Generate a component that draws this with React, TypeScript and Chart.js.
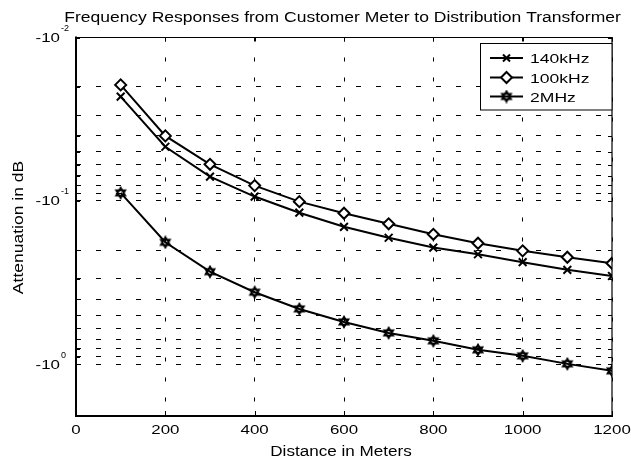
import React, { useEffect, useRef } from 'react';
import { Chart, registerables } from 'chart.js';

Chart.register(...registerables);

const distances = [100, 200, 300, 400, 500, 600, 700, 800, 900, 1000, 1100, 1200];
const atten140k = [0.023, 0.0466, 0.071, 0.094, 0.118, 0.144, 0.168, 0.193, 0.212, 0.237, 0.264, 0.288];
const atten100k = [0.0195, 0.040, 0.0597, 0.0806, 0.101, 0.119, 0.138, 0.160, 0.1815, 0.202, 0.221, 0.2405];
const atten2M = [0.0893, 0.179, 0.271, 0.362, 0.458, 0.55, 0.642, 0.718, 0.815, 0.887, 0.993, 1.096];
const seriesLabels = ['140kHz', '100kHz', '2MHz'];
const xTicks = [0, 200, 400, 600, 800, 1000, 1200];
const yMajorTicks = [0.01, 0.1, 1];
const yTickBase = '-10';
const yTickExps = ['-2', '-1', '0'];
const titleText = 'Frequency Responses from Customer Meter to Distribution Transformer';
const xTitle = 'Distance in Meters';
const yTitle = 'Attenuation in dB';

const FONT = "'Liberation Sans', Arial, Helvetica, sans-serif";

function buildYTicks(): number[] {
  const out: number[] = [];
  for (let d = 0; d < yMajorTicks.length - 1; d++) {
    for (let m = 1; m <= 9; m++) out.push(yMajorTicks[d] * m);
  }
  out.push(yMajorTicks[yMajorTicks.length - 1]);
  return out;
}
const yAllTicks = buildYTicks();

function txt(ctx: CanvasRenderingContext2D, s: string, x: number, y: number, size: number, align: CanvasTextAlign, sx = 1.3, rot = 0) {
  ctx.save();
  ctx.translate(x, y);
  if (rot) ctx.rotate(rot);
  ctx.scale(sx, 1);
  ctx.font = `${size}px ${FONT}`;
  ctx.textAlign = align;
  ctx.textBaseline = 'alphabetic';
  ctx.fillStyle = '#000';
  ctx.fillText(s, 0, 0);
  ctx.restore();
}

function makeHexagram(): HTMLCanvasElement {
  const c = document.createElement('canvas');
  c.width = 14;
  c.height = 14;
  const g = c.getContext('2d')!;
  const R = 5.2;
  g.strokeStyle = '#000';
  g.lineWidth = 1.8;
  g.lineJoin = 'miter';
  for (const start of [-90, 90]) {
    g.beginPath();
    for (let k = 0; k < 3; k++) {
      const a = ((start + k * 120) * Math.PI) / 180;
      const px = 7 + R * Math.cos(a);
      const py = 7 + R * Math.sin(a);
      if (k === 0) g.moveTo(px, py);
      else g.lineTo(px, py);
    }
    g.closePath();
    g.stroke();
  }
  return c;
}

export default function App() {
  const ref = useRef<HTMLCanvasElement | null>(null);

  useEffect(() => {
    const canvas = ref.current;
    if (!canvas) return;
    const hex = makeHexagram();

    const framePlugin = {
      id: 'matlabFrame',
      afterDraw(chart: any) {
        const ctx: CanvasRenderingContext2D = chart.ctx;
        const a = chart.chartArea;
        const xs = chart.scales.x;
        const ys = chart.scales.y;
        ctx.save();
        ctx.strokeStyle = '#000';
        // tick marks (inward)
        ctx.lineWidth = 1;
        for (const v of xTicks) {
          const px = Math.round(xs.getPixelForValue(v)) + 0.5;
          ctx.beginPath();
          ctx.moveTo(px, a.bottom);
          ctx.lineTo(px, a.bottom - 5);
          ctx.moveTo(px, a.top);
          ctx.lineTo(px, a.top + 4);
          ctx.stroke();
        }
        for (const v of yAllTicks) {
          const py = Math.round(ys.getPixelForValue(v)) + 0.5;
          ctx.beginPath();
          ctx.moveTo(a.left, py);
          ctx.lineTo(a.left + 4, py);
          ctx.moveTo(a.right, py);
          ctx.lineTo(a.right - 4, py);
          ctx.stroke();
        }
        // frame
        ctx.lineWidth = 1.2;
        ctx.beginPath();
        ctx.moveTo(a.left, a.top);
        ctx.lineTo(a.right, a.top);
        ctx.lineTo(a.right, a.bottom);
        ctx.stroke();
        ctx.lineWidth = 2;
        ctx.beginPath();
        ctx.moveTo(a.left, a.top - 1);
        ctx.lineTo(a.left, a.bottom);
        ctx.lineTo(a.right + 1, a.bottom);
        ctx.stroke();

        // x tick labels
        for (const v of xTicks) {
          txt(ctx, String(v), xs.getPixelForValue(v), 434, 13, 'center', 1.3);
        }
        // y tick labels
        yMajorTicks.forEach((v, i) => {
          const py = ys.getPixelForValue(v);
          txt(ctx, yTickBase, 60, py + 4.5, 13, 'right', 1.3);
          txt(ctx, yTickExps[i], 61, py - 6.5, 9, 'left', 1.0);
        });
        // titles
        txt(ctx, titleText, 342.5, 22, 14, 'center', 1.25);
        txt(ctx, xTitle, 341, 456, 14, 'center', 1.22);
        txt(ctx, yTitle, 23, 227.5, 14, 'center', 1.25, -Math.PI / 2);

        // legend
        const bx = 480.5, by = 43.5, bw = 131.5, bh = 66.5;
        ctx.fillStyle = '#fff';
        ctx.fillRect(bx, by, bw, bh);
        ctx.lineWidth = 1;
        ctx.strokeStyle = '#000';
        ctx.strokeRect(bx, by, bw, bh);
        const rows = [58, 77.5, 96.5];
        rows.forEach((ry, i) => {
          ctx.lineWidth = 2;
          ctx.beginPath();
          ctx.moveTo(490, ry);
          ctx.lineTo(523, ry);
          ctx.stroke();
          const mx = 506.5;
          if (i === 0) {
            const r = 3.5;
            ctx.beginPath();
            ctx.moveTo(mx - r, ry - r);
            ctx.lineTo(mx + r, ry + r);
            ctx.moveTo(mx + r, ry - r);
            ctx.lineTo(mx - r, ry + r);
            ctx.stroke();
          } else if (i === 1) {
            const r = 5.5;
            ctx.beginPath();
            ctx.moveTo(mx, ry - r);
            ctx.lineTo(mx + r, ry);
            ctx.lineTo(mx, ry + r);
            ctx.lineTo(mx - r, ry);
            ctx.closePath();
            ctx.fillStyle = '#fff';
            ctx.fill();
            ctx.stroke();
          } else {
            ctx.drawImage(hex, mx - 7, ry - 7);
          }
          txt(ctx, seriesLabels[i], 530, ry + 5, 13, 'left', 1.35);
        });
        ctx.restore();
      },
    };

    const mk = (vals: number[]) => distances.map((d, i) => ({ x: d, y: vals[i] }));

    const chart = new Chart(canvas, {
      type: 'line',
      data: {
        datasets: [
          {
            label: seriesLabels[0],
            data: mk(atten140k),
            borderColor: '#000',
            borderWidth: 2,
            pointStyle: 'crossRot',
            pointRadius: 5.5,
            pointBorderWidth: 2,
            pointBorderColor: '#000',
            pointBackgroundColor: '#000',
            fill: false,
            tension: 0,
          },
          {
            label: seriesLabels[1],
            data: mk(atten100k),
            borderColor: '#000',
            borderWidth: 2,
            pointStyle: 'rectRot',
            pointRadius: 5.5,
            pointBorderWidth: 2,
            pointBorderColor: '#000',
            pointBackgroundColor: '#fff',
            fill: false,
            tension: 0,
          },
          {
            label: seriesLabels[2],
            data: mk(atten2M),
            borderColor: '#000',
            borderWidth: 2,
            pointStyle: hex as any,
            pointRadius: 6,
            pointBorderColor: '#000',
            pointBackgroundColor: '#000',
            fill: false,
            tension: 0,
          },
        ],
      },
      options: {
        responsive: false,
        animation: false,
        devicePixelRatio: 1,
        layout: { padding: { left: 0, top: 37.5, right: 19, bottom: 0 } },
        plugins: {
          legend: { display: false },
          title: { display: false },
          tooltip: { enabled: false },
        },
        scales: {
          x: {
            type: 'linear',
            min: 0,
            max: 1200,
            afterBuildTicks: (ax: any) => {
              ax.ticks = xTicks.map((v) => ({ value: v }));
            },
            afterFit: (s: any) => {
              s.height = 46;
            },
            ticks: { display: false },
            grid: { color: '#000', lineWidth: 1, drawTicks: false },
            border: { display: false, dash: [4, 16] },
          },
          y: {
            type: 'logarithmic',
            reverse: true,
            min: 0.01,
            max: 2.07,
            afterBuildTicks: (ax: any) => {
              ax.ticks = yAllTicks.map((v) => ({ value: v }));
            },
            afterFit: (s: any) => {
              s.width = 76;
            },
            ticks: { display: false },
            grid: { color: '#000', lineWidth: 1, drawTicks: false },
            border: { display: false, dash: [5, 15] },
          },
        },
      } as any,
      plugins: [framePlugin],
    });

    return () => chart.destroy();
  }, []);

  return (
    <div style={{ position: 'absolute', left: 0, top: 0, width: 631, height: 462, background: '#fff' }}>
      <canvas ref={ref} width={631} height={462} style={{ display: 'block' }} />
    </div>
  );
}
